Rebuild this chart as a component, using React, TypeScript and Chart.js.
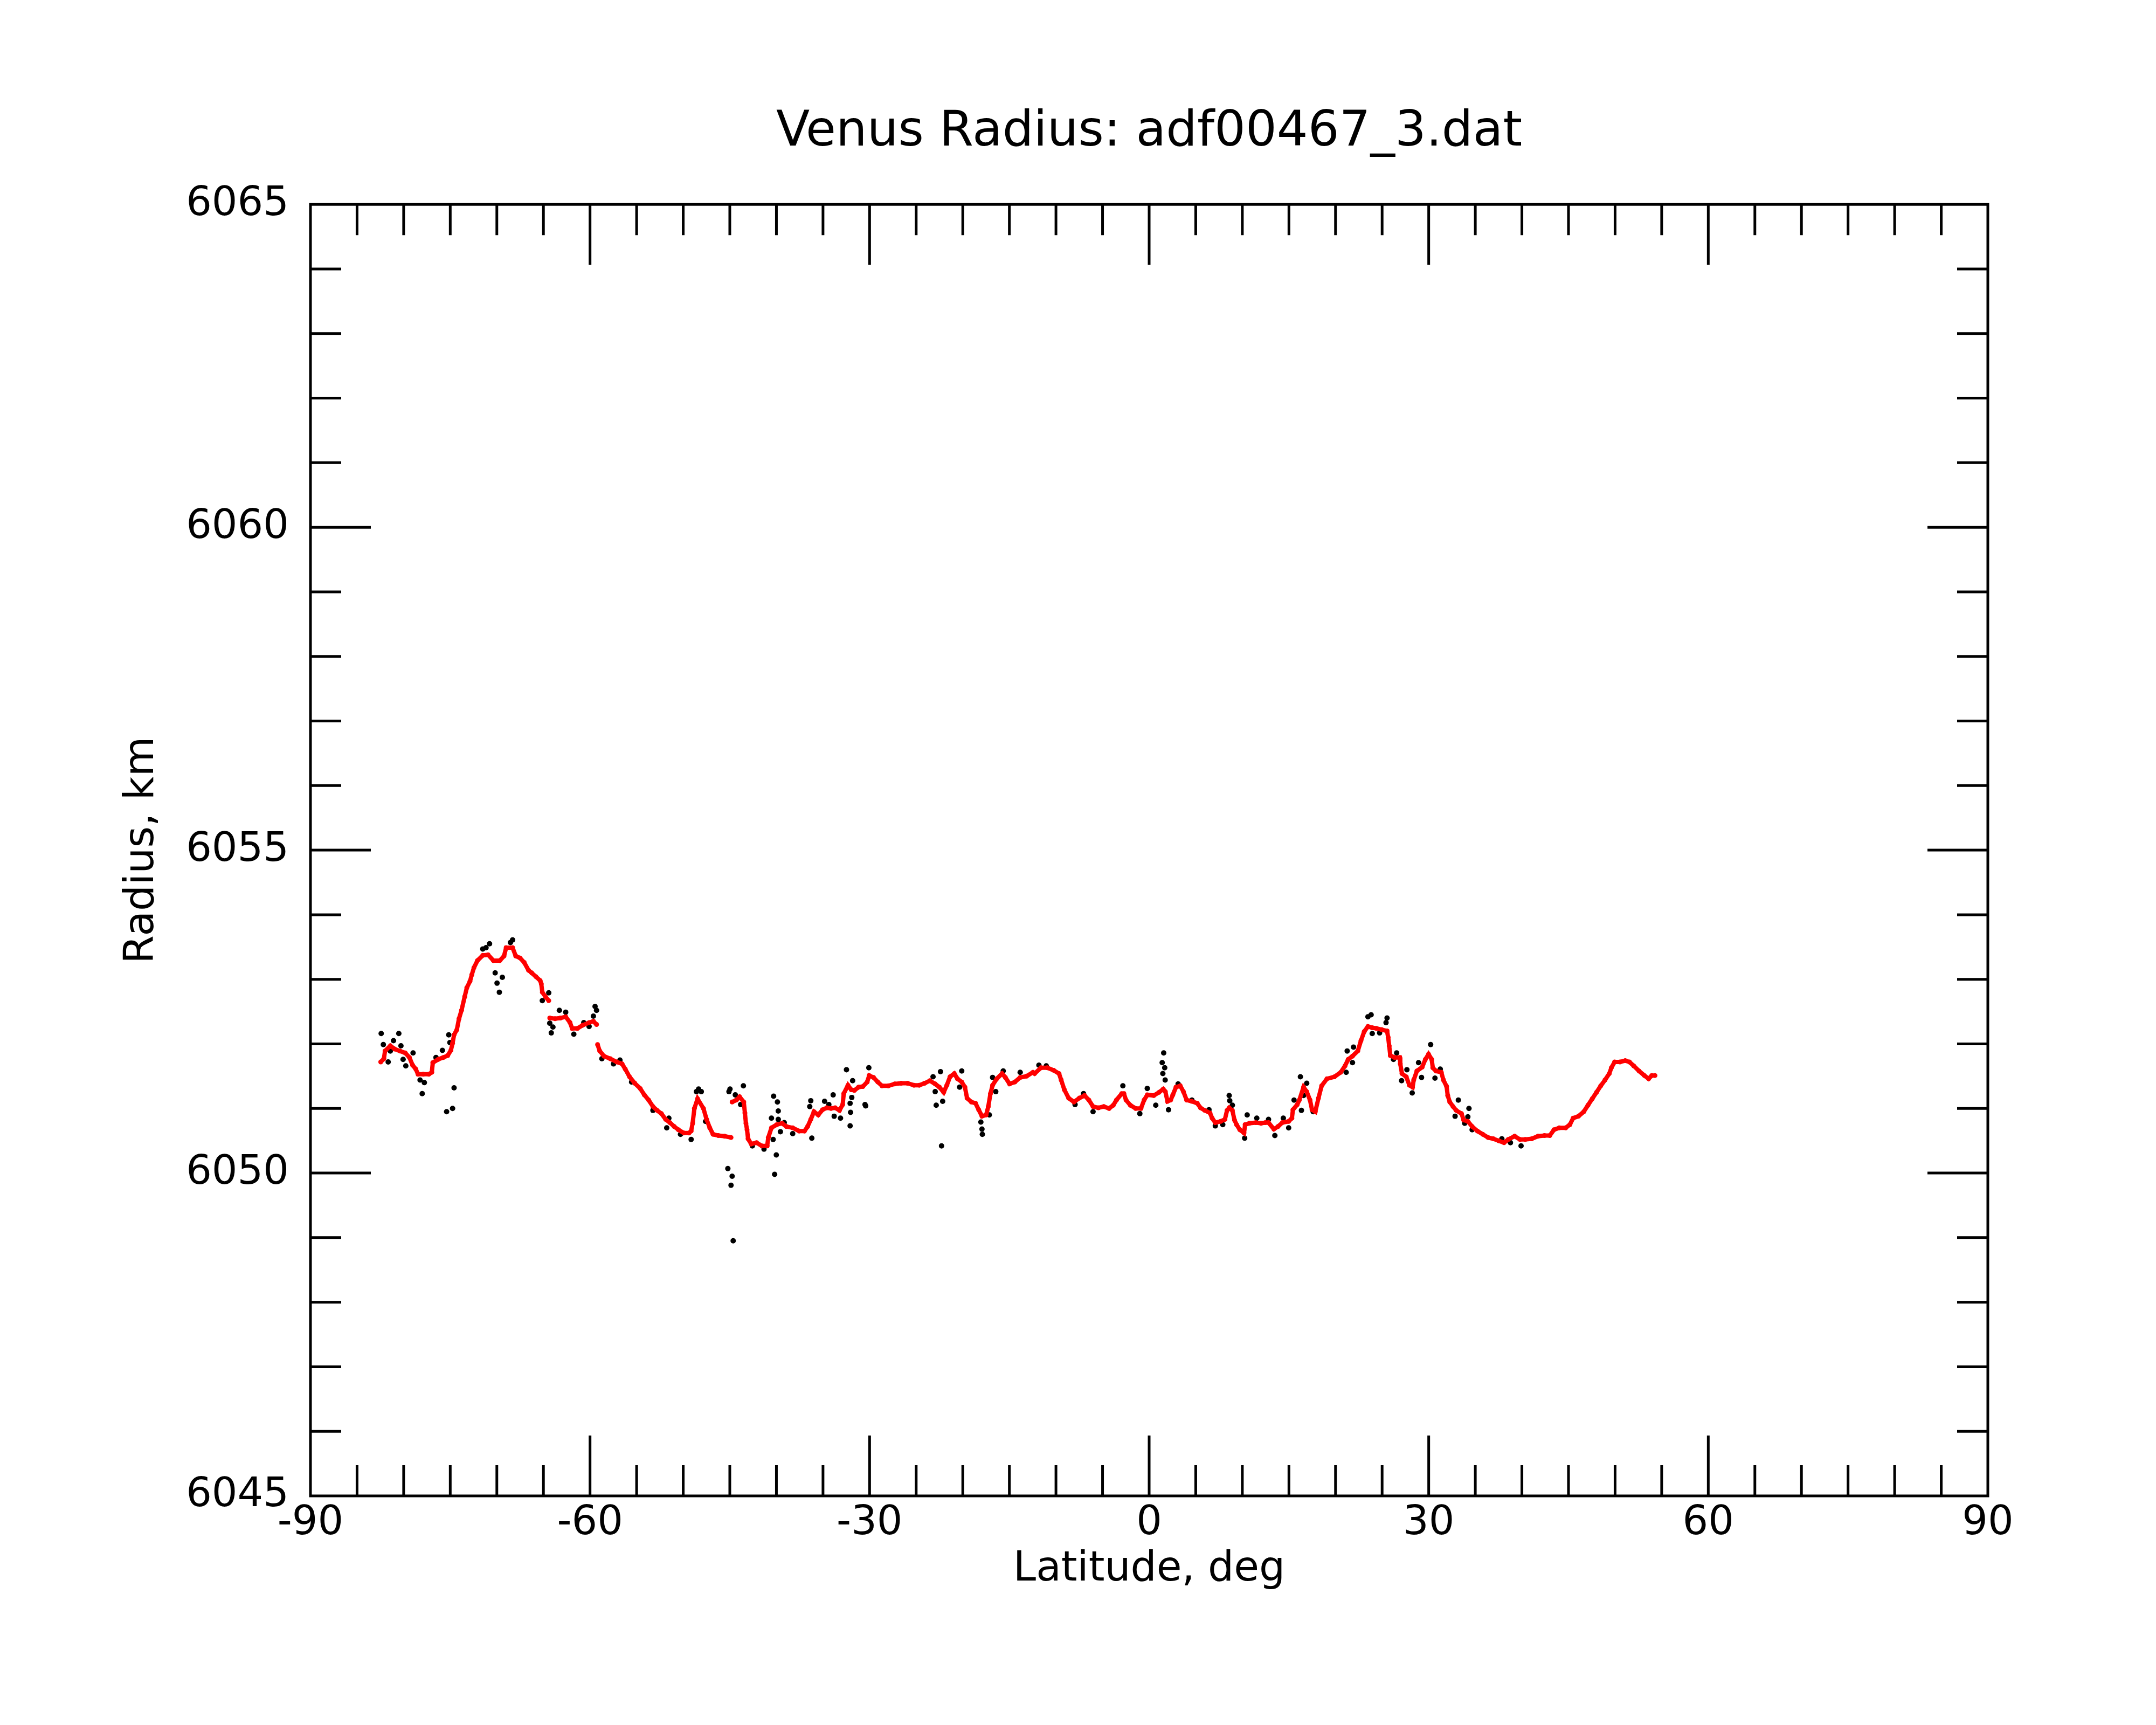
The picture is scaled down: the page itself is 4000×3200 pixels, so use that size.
import { useEffect, useRef } from "react";
import { Chart, registerables } from "chart.js";

Chart.register(...registerables);

const FONT = "DejaVu Sans";

// smoothed profile (red), null = break in the trace
const redLat = [
  -82.46, -82.12, -82.0, -81.43, -80.97, -80.4, -79.83, -79.38, -79.04, -78.7,
  -78.46, -77.9, -77.3, -76.98, -76.87, -76.3, -75.73, -75.27, -74.93, -74.75,
  -74.59, -74.29, -74.06, -73.79, -73.45, -73.22, -72.88, -72.69, -72.46, -72.08,
  -71.51, -70.94, -70.37, -69.68, -69.23, -69.0, -68.31, -67.97, -67.51, -67.06,
  -66.6, -66.26, -65.8, -65.35, -65.23, -65.12, -64.78, -64.43, -64.38, -64.32,
  -63.75, -63.18, -62.61, -62.15, -61.92, -61.35, -60.78, -60.1, -59.64, -59.3,
  -59.25, -59.19, -58.96, -58.5, -57.82, -57.13, -56.56, -56.22, -55.76, -55.2,
  -54.62, -54.17, -53.71, -53.25, -52.8, -52.34, -51.88, -51.43, -50.97, -50.52,
  -49.95, -49.38, -49.15, -48.99, -48.8, -48.46, -47.83, -47.49, -47.15, -46.8,
  -46.23, -45.55, -44.87, -44.8, -44.75, -44.3, -43.95, -43.5, -43.38, -43.27,
  -43.15, -43.04, -42.7, -42.13, -41.56, -40.99, -40.87, -40.53, -39.96, -39.39,
  -38.93, -38.25, -37.56, -36.99, -36.65, -36.31, -35.97, -35.51, -35.05, -34.6,
  -34.14, -33.69, -33.23, -32.89, -32.77, -32.32, -31.97, -31.63, -31.18, -30.72,
  -30.26, -30.04, -29.58, -29.12, -28.67, -27.98, -27.3, -26.61, -25.93, -25.24,
  -24.67, -24.1, -23.53, -22.96, -22.51, -22.05, -21.71, -21.37, -20.91, -20.57,
  -20.11, -19.77, -19.54, -19.08, -18.63, -18.29, -17.94, -17.49, -17.26, -17.03,
  -16.8, -16.35, -15.78, -15.43, -14.98, -14.41, -13.84, -13.15, -12.47, -12.29,
  -11.61, -10.92, -10.24, -9.67, -9.44, -9.1, -8.64, -8.07, -7.5, -6.93,
  -6.47, -6.02, -5.45, -4.87, -4.3, -3.85, -3.51, -2.94, -2.71, -2.48,
  -2.02, -1.45, -0.88, -0.54, -0.2, 0.49, 1.06, 1.51, 1.74, 1.97,
  2.31, 2.54, 2.88, 3.34, 3.68, 4.02, 4.59, 5.16, 5.51, 5.96,
  6.53, 6.76, 7.1, 7.67, 8.13, 8.36, 8.59, 8.93, 9.16, 9.38,
  9.73, 10.18, 10.3, 10.75, 11.44, 12.01, 12.47, 12.81, 13.38, 13.83,
  14.29, 14.97, 15.32, 15.43, 15.89, 16.12, 16.57, 16.91, 17.26, 17.48,
  17.83, 18.17, 18.51, 19.08, 19.88, 20.56, 21.02, 21.36, 21.82, 22.39,
  22.73, 23.08, 23.48, 23.94, 24.39, 24.96, 25.53, 25.65, 25.76, 25.88,
  26.33, 26.9, 26.95, 27.13, 27.59, 27.93, 28.27, 28.39, 28.73, 29.3,
  29.64, 29.98, 30.32, 30.44, 30.78, 31.35, 31.58, 31.92, 32.04, 32.26,
  32.61, 32.95, 33.52, 33.75, 34.2, 34.66, 35.23, 35.8, 36.37, 36.94,
  37.51, 38.08, 38.54, 39.22, 39.79, 40.36, 41.05, 41.73, 42.42, 42.99,
  43.44, 44.01, 44.7, 45.15, 45.5, 46.07, 46.64, 47.09, 47.55, 48.01,
  48.46, 48.92, 49.38, 49.6, 49.95, 50.52, 51.09, 51.54, 52.0, 52.57,
  53.14, 53.6, 53.94, 54.28,
];

const redRadius = [
  6051.72, 6051.77, 6051.89, 6051.97, 6051.92, 6051.89, 6051.86, 6051.79, 6051.67, 6051.61,
  6051.53, 6051.53, 6051.53, 6051.56, 6051.71, 6051.76, 6051.79, 6051.82, 6051.9, 6052.01,
  6052.14, 6052.22, 6052.39, 6052.52, 6052.73, 6052.87, 6052.97, 6053.07, 6053.18, 6053.29,
  6053.37, 6053.38, 6053.29, 6053.29, 6053.36, 6053.49, 6053.49, 6053.36, 6053.33, 6053.26,
  6053.14, 6053.1, 6053.04, 6052.98, 6052.93, 6052.8, 6052.73, 6052.67, null, 6052.4,
  6052.39, 6052.4, 6052.42, 6052.33, 6052.24, 6052.24, 6052.29, 6052.33, 6052.35, 6052.3,
  null, 6051.99, 6051.89, 6051.81, 6051.77, 6051.72, 6051.69, 6051.61, 6051.49, 6051.39,
  6051.31, 6051.21, 6051.13, 6051.03, 6050.97, 6050.92, 6050.83, 6050.78, 6050.72, 6050.67,
  6050.62, 6050.62, 6050.65, 6050.77, 6051.0, 6051.15, 6051.0, 6050.83, 6050.7, 6050.6,
  6050.58, 6050.57, 6050.55, null, 6051.1, 6051.13, 6051.18, 6051.1, 6050.93, 6050.77,
  6050.67, 6050.53, 6050.45, 6050.47, 6050.42, 6050.42, 6050.55, 6050.7, 6050.75, 6050.77,
  6050.72, 6050.7, 6050.65, 6050.65, 6050.72, 6050.83, 6050.95, 6050.9, 6050.98, 6051.01,
  6051.0, 6051.01, 6050.97, 6051.06, 6051.23, 6051.36, 6051.29, 6051.28, 6051.33, 6051.34,
  6051.41, 6051.51, 6051.48, 6051.41, 6051.35, 6051.35, 6051.38, 6051.39, 6051.39, 6051.36,
  6051.36, 6051.39, 6051.43, 6051.38, 6051.33, 6051.25, 6051.36, 6051.49, 6051.54, 6051.46,
  6051.41, 6051.33, 6051.16, 6051.1, 6051.08, 6050.98, 6050.88, 6050.9, 6051.03, 6051.23,
  6051.36, 6051.46, 6051.54, 6051.48, 6051.38, 6051.41, 6051.48, 6051.5, 6051.56, 6051.54,
  6051.63, 6051.63, 6051.59, 6051.54, 6051.44, 6051.29, 6051.16, 6051.1, 6051.16, 6051.2,
  6051.13, 6051.03, 6051.01, 6051.03, 6051.0, 6051.05, 6051.13, 6051.23, 6051.23, 6051.13,
  6051.05, 6051.0, 6051.0, 6051.13, 6051.21, 6051.2, 6051.25, 6051.3, 6051.26, 6051.11,
  6051.13, 6051.21, 6051.33, 6051.35, 6051.26, 6051.13, 6051.11, 6051.08, 6051.01, 6050.97,
  6050.93, 6050.85, 6050.78, 6050.8, 6050.83, 6050.97, 6051.01, 6050.97, 6050.82, 6050.75,
  6050.67, 6050.62, 6050.75, 6050.77, 6050.78, 6050.77, 6050.78, 6050.78, 6050.68, 6050.72,
  6050.78, 6050.8, 6050.85, 6050.98, 6051.06, 6051.13, 6051.33, 6051.26, 6051.13, 6050.98,
  6050.95, 6051.16, 6051.35, 6051.46, 6051.49, 6051.56, 6051.66, 6051.76, 6051.81, 6051.89,
  6052.05, 6052.19, 6052.27, 6052.25, 6052.24, 6052.22, 6052.2, 6052.1, 6051.97, 6051.82,
  6051.79, 6051.79, 6051.69, 6051.54, 6051.49, 6051.36, 6051.33, 6051.44, 6051.58, 6051.64,
  6051.76, 6051.84, 6051.76, 6051.63, 6051.58, 6051.56, 6051.44, 6051.34, 6051.2, 6051.1,
  6051.03, 6050.97, 6050.92, 6050.82, 6050.8, 6050.72, 6050.65, 6050.6, 6050.55, 6050.53,
  6050.5, 6050.47, 6050.52, 6050.57, 6050.52, 6050.52, 6050.53, 6050.57, 6050.58, 6050.58,
  6050.67, 6050.7, 6050.7, 6050.75, 6050.85, 6050.88, 6050.95, 6051.05, 6051.15, 6051.25,
  6051.35, 6051.44, 6051.54, 6051.63, 6051.72, 6051.72, 6051.74, 6051.72, 6051.66, 6051.58,
  6051.51, 6051.46, 6051.51, 6051.51,
];

// raw samples (black) that stand out from the smoothed trace
const rawLat = [
  -82.41, -82.18, -81.66, -81.43, -81.09, -80.52, -80.29, -80.06, -79.77, -78.99,
  -78.24, -77.78, -78.01, -76.53, -75.84, -75.16, -75.04, -74.59, -74.75, -75.39,
  -71.51, -71.16, -70.78, -70.18, -69.41, -69.98, -69.73, -68.31, -68.54, -65.12,
  -64.43, -64.16, -63.98, -64.32, -63.29, -62.61, -61.74, -60.67, -60.1, -59.64,
  -59.46, -59.3, -58.73, -57.48, -56.79, -55.54, -53.25, -51.77, -51.54, -50.29,
  -49.15, -48.58, -48.35, -48.06, -47.6, -45.09, -44.98, -44.41, -43.84, -43.54,
  -45.21, -44.75, -44.87, -44.64, -42.58, -41.33, -40.3, -39.89, -39.8, -39.8,
  -40.53, -40.35, -40.01, -40.19, -39.57, -39.16, -38.25, -36.2, -36.31, -36.42,
  -34.83, -34.37, -33.91, -33.8, -33.12, -32.48, -32.09, -31.91, -32.04, -32.09,
  -31.82, -30.49, -30.42, -30.08, -23.19, -22.39, -22.85, -22.16, -22.96, -22.28,
  -20.11, -20.34, -18.06, -17.94, -17.9, -17.15, -16.8, -16.46, -15.66, -13.84,
  -11.83, -11.04, -7.95, -7.04, -6.02, -2.82, -1.0, -0.2, 0.71, 1.56,
  1.4, 1.67, 1.47, 1.72, 2.08, 3.11, 4.59, 6.42, 7.1, 7.9,
  8.59, 8.65, 8.93, 10.25, 10.52, 11.55, 12.81, 13.49, 14.4, 14.97,
  16.23, 15.55, 16.34, 16.57, 16.91, 17.6, 21.14, 21.25, 21.93, 21.82,
  23.48, 23.82, 23.94, 24.73, 25.53, 25.42, 26.56, 26.22, 27.66, 27.09,
  28.23, 28.91, 29.23, 30.21, 30.67, 31.24, 33.18, 32.83, 34.32, 34.2,
  33.86, 34.66, 37.85, 39.91, 38.77,
];

const rawRadius = [
  6052.16, 6051.99, 6051.72, 6051.89, 6052.05, 6052.16, 6051.97, 6051.76, 6051.66, 6051.86,
  6051.44, 6051.4, 6051.23, 6051.79, 6051.9, 6052.14, 6052.02, 6051.32, 6051.0, 6050.95,
  6053.47, 6053.49, 6053.55, 6053.1, 6053.03, 6052.94, 6052.8, 6053.61, 6053.57, 6052.67,
  6052.79, 6052.17, 6052.26, 6052.32, 6052.52, 6052.49, 6052.15, 6052.33, 6052.27, 6052.43,
  6052.58, 6052.52, 6051.77, 6051.69, 6051.75, 6051.41, 6050.97, 6050.7, 6050.85, 6050.6,
  6050.52, 6051.26, 6051.3, 6051.26, 6050.8, 6051.26, 6051.3, 6051.21, 6051.06, 6051.35,
  6050.07, 6049.95, 6049.81, 6048.95, 6050.42, 6050.37, 6051.19, 6051.1, 6050.96, 6050.83,
  6050.85, 6050.52, 6050.28, 6049.98, 6050.64, 6050.78, 6050.61, 6050.54, 6051.12, 6051.03,
  6051.11, 6051.06, 6051.21, 6050.88, 6050.85, 6051.6, 6051.08, 6051.17, 6050.94, 6050.73,
  6051.43, 6051.06, 6051.04, 6051.63, 6051.49, 6051.57, 6051.05, 6051.11, 6051.26, 6050.42,
  6051.58, 6051.33, 6050.79, 6050.68, 6050.6, 6050.9, 6051.48, 6051.26, 6051.58, 6051.56,
  6051.67, 6051.66, 6051.06, 6051.23, 6050.95, 6051.35, 6050.92, 6051.31, 6051.05, 6051.86,
  6051.71, 6051.63, 6051.54, 6051.44, 6050.98, 6051.38, 6051.13, 6050.98, 6050.73, 6050.75,
  6051.2, 6051.12, 6051.05, 6050.54, 6050.9, 6050.85, 6050.83, 6050.58, 6050.85, 6050.7,
  6051.49, 6051.13, 6050.97, 6051.2, 6051.39, 6050.95, 6051.56, 6051.89, 6051.95, 6051.71,
  6052.42, 6052.45, 6052.16, 6052.17, 6052.4, 6052.33, 6051.86, 6051.76, 6051.6, 6051.43,
  6051.24, 6051.71, 6051.48, 6051.99, 6051.47, 6051.61, 6051.13, 6050.88, 6051.0, 6050.87,
  6050.77, 6050.67, 6050.53, 6050.42, 6050.47,
];

// axis ticks
const xMinorTicks = [
  -85, -80, -75, -70, -65, -60, -55, -50, -45, -40, -35, -30, -25, -20, -15, -10, -5,
  0, 5, 10, 15, 20, 25, 30, 35, 40, 45, 50, 55, 60, 65, 70, 75, 80, 85,
];
const xMajorTicks = [-60, -30, 0, 30, 60];
const yMinorTicks = [
  6046, 6047, 6048, 6049, 6050, 6051, 6052, 6053, 6054, 6055, 6056, 6057, 6058, 6059,
  6060, 6061, 6062, 6063, 6064,
];
const yMajorTicks = [6050, 6055, 6060];

const MAJOR_LEN = 112;
const MINOR_LEN = 57;

// IDL-style closed frame with inward ticks on all four sides
const frameTicks = {
  id: "frameTicks",
  afterDatasetsDraw(chart: any) {
    const { ctx, chartArea: a, scales } = chart;
    const xs = scales.x;
    const ys = scales.y;
    ctx.save();
    ctx.strokeStyle = "#000";
    ctx.lineWidth = 5;
    ctx.lineCap = "butt";
    ctx.beginPath();
    xMinorTicks.forEach((v) => {
      const px = xs.getPixelForValue(v);
      const len = xMajorTicks.includes(v) ? MAJOR_LEN : MINOR_LEN;
      ctx.moveTo(px, a.bottom);
      ctx.lineTo(px, a.bottom - len);
      ctx.moveTo(px, a.top);
      ctx.lineTo(px, a.top + len);
    });
    yMinorTicks.forEach((v) => {
      const py = ys.getPixelForValue(v);
      const len = yMajorTicks.includes(v) ? MAJOR_LEN : MINOR_LEN;
      ctx.moveTo(a.left, py);
      ctx.lineTo(a.left + len, py);
      ctx.moveTo(a.right, py);
      ctx.lineTo(a.right - len, py);
    });
    ctx.stroke();
    ctx.strokeRect(a.left, a.top, a.right - a.left, a.bottom - a.top);
    ctx.restore();
  },
};

const App = () => {
  const canvasRef = useRef<HTMLCanvasElement>(null);
  const chartRef = useRef<Chart | null>(null);

  useEffect(() => {
    if (!canvasRef.current) return;
    if (chartRef.current) chartRef.current.destroy();

    const redPoints = redLat.map((x, i) => ({ x, y: redRadius[i] }));
    const rawPoints = rawLat.map((x, i) => ({ x, y: rawRadius[i] }));

    chartRef.current = new Chart(canvasRef.current, {
      type: "scatter",
      data: {
        datasets: [
          {
            label: "smoothed",
            data: redPoints,
            order: 0,
            showLine: true,
            spanGaps: false,
            borderColor: "#ff0000",
            borderWidth: 8,
            pointRadius: 4.5,
            pointBorderWidth: 0,
            pointBackgroundColor: "#ff0000",
          },
          {
            label: "raw",
            data: rawPoints,
            order: 1,
            showLine: false,
            pointRadius: 5,
            pointBorderWidth: 0,
            pointBackgroundColor: "#000000",
          },
        ],
      },
      options: {
        responsive: false,
        devicePixelRatio: 1,
        animation: false,
        layout: { padding: { left: 0, right: 312, top: 0, bottom: 0 } },
        plugins: {
          legend: { display: false },
          tooltip: { enabled: false },
          title: {
            display: true,
            fullSize: false,
            text: "Venus Radius: adf00467_3.dat",
            color: "#000",
            font: { family: FONT, size: 91, weight: "normal", lineHeight: 1.2 },
            padding: { top: 192, bottom: 78 },
          },
        },
        scales: {
          x: {
            type: "linear",
            position: "bottom",
            min: -90,
            max: 90,
            grid: { display: false, drawTicks: false },
            border: { display: false },
            ticks: {
              stepSize: 30,
              padding: 7,
              color: "#000",
              maxRotation: 0,
              autoSkip: false,
              font: { family: FONT, size: 75, lineHeight: 1.2 },
              callback: (v: any) => String(v),
            },
            title: {
              display: true,
              text: "Latitude, deg",
              color: "#000",
              font: { family: FONT, size: 76, lineHeight: 1.2 },
              padding: { top: 0, bottom: 242 },
            },
            afterFit: (scale: any) => {
              scale.height = 425;
            },
          },
          y: {
            type: "linear",
            position: "left",
            min: 6045,
            max: 6065,
            grid: { display: false, drawTicks: false },
            border: { display: false },
            ticks: {
              stepSize: 5,
              padding: 40,
              color: "#000",
              autoSkip: false,
              font: { family: FONT, size: 75, lineHeight: 1.2 },
              callback: (v: any) => String(v),
            },
            title: {
              display: true,
              text: "Radius, km",
              color: "#000",
              font: { family: FONT, size: 76, lineHeight: 1.2 },
              padding: { top: 219, bottom: 0 },
            },
            afterFit: (scale: any) => {
              scale.width = 576;
            },
          },
        },
      },
      plugins: [frameTicks],
    });

    return () => {
      if (chartRef.current) {
        chartRef.current.destroy();
        chartRef.current = null;
      }
    };
  }, []);

  return (
    <div
      style={{
        position: "absolute",
        left: 0,
        top: 0,
        width: 4000,
        height: 3200,
        background: "#ffffff",
      }}
    >
      <canvas ref={canvasRef} width={4000} height={3200}></canvas>
    </div>
  );
};

export default App;
